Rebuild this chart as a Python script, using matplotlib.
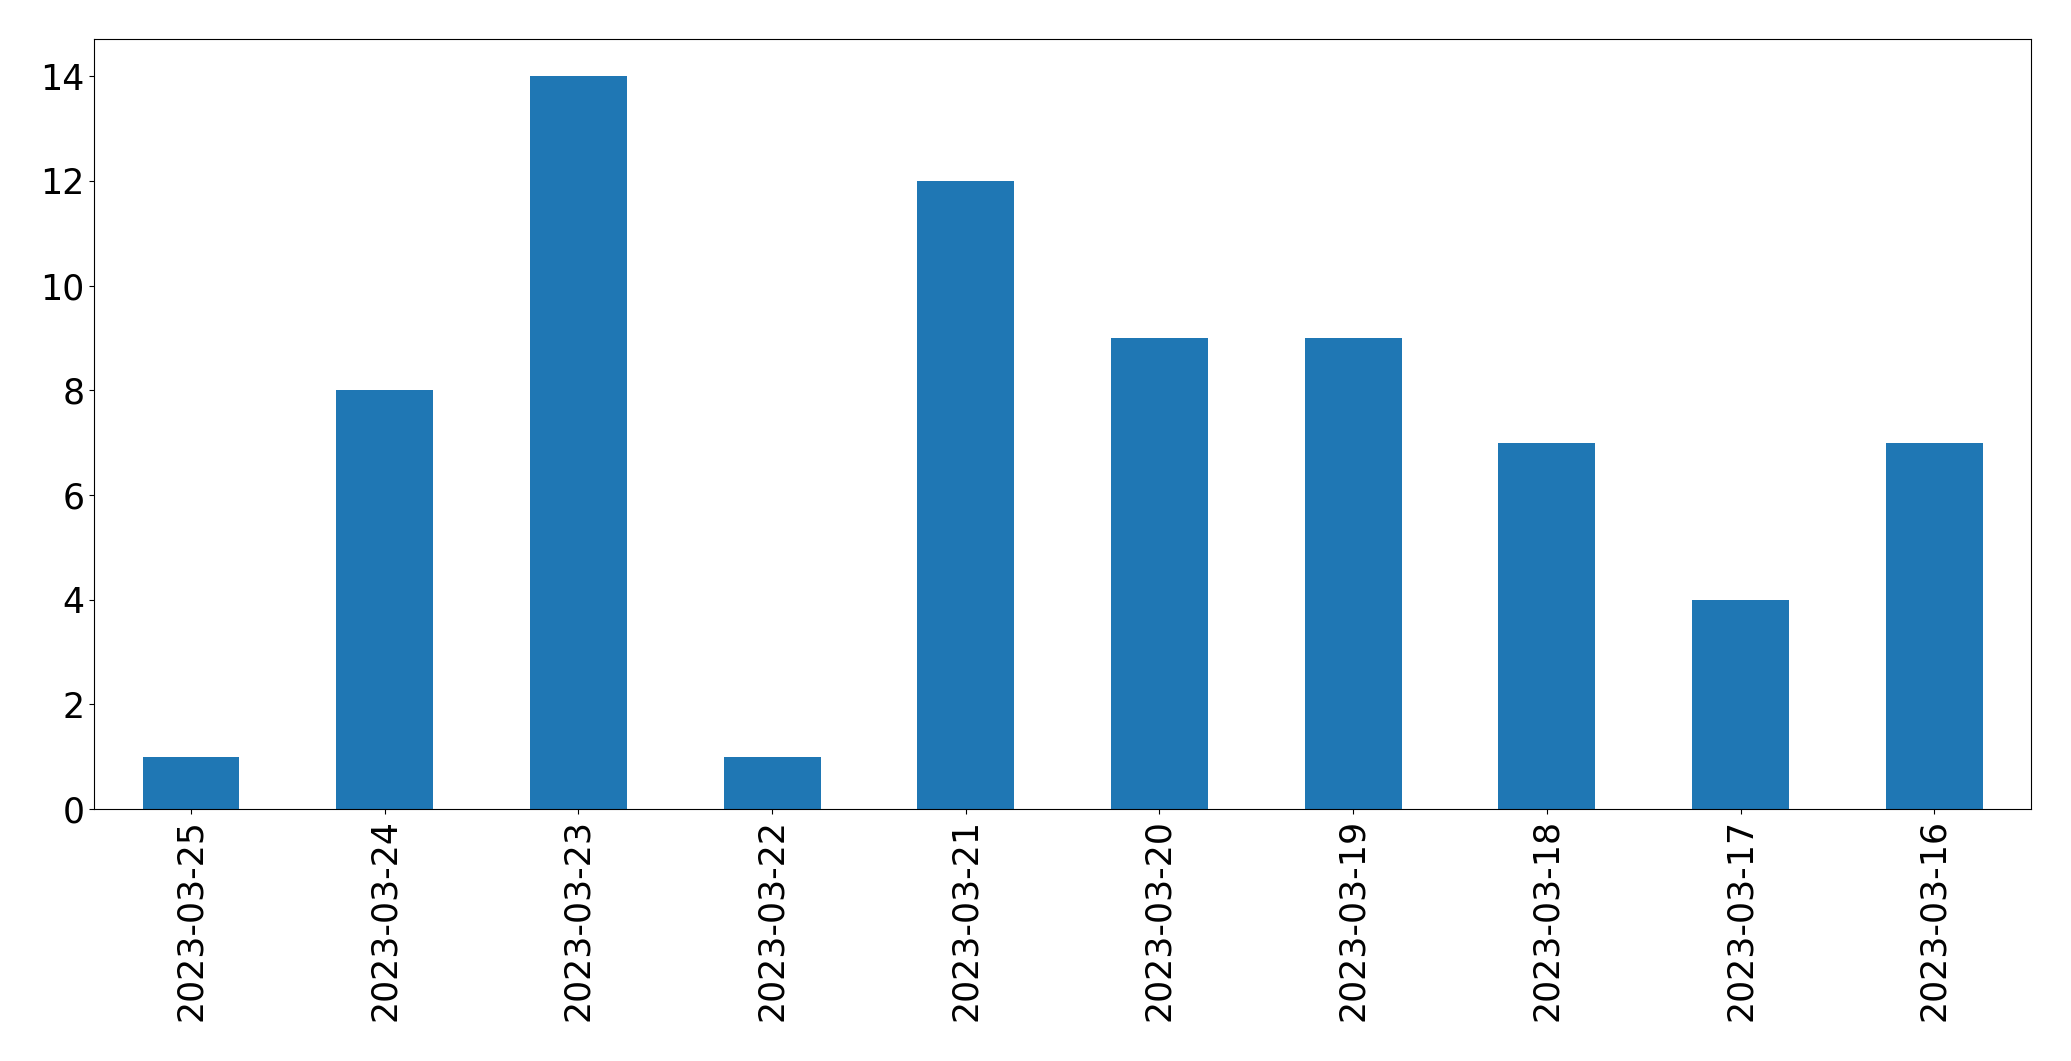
import matplotlib
matplotlib.use("Agg")
import matplotlib.pyplot as plt
import numpy as np

dates = ['2023-03-25', '2023-03-24', '2023-03-23', '2023-03-22', '2023-03-21',
         '2023-03-20', '2023-03-19', '2023-03-18', '2023-03-17', '2023-03-16']
counts = [1, 8, 14, 1, 12, 9, 9, 7, 4, 7]

fig = plt.figure(figsize=(20.71, 10.61), dpi=100)
ax = fig.add_axes([0.0455, 0.2375, 0.9352, 0.7253])

x = np.arange(len(dates))
ax.bar(x, counts, width=0.5, color='#1f77b4')
ax.set_xlim(-0.5, len(dates) - 0.5)
ax.set_ylim(0, max(counts) * 1.05)
ax.set_xticks(x)
ax.set_xticklabels(dates, rotation=90)
ax.tick_params(labelsize=25)

fig.savefig('out.png', dpi=100)
